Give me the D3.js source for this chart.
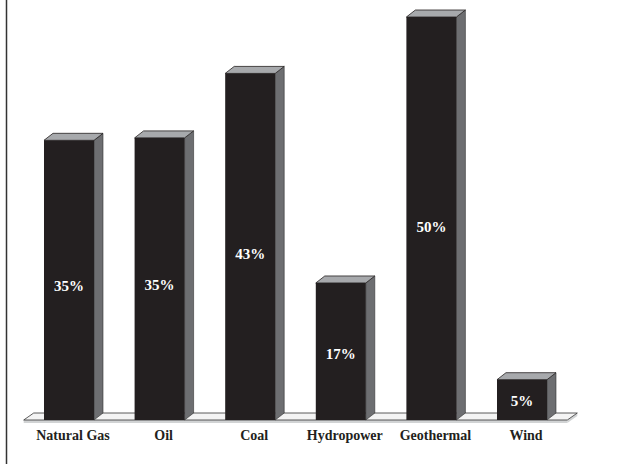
<!DOCTYPE html>
<html>
<head>
<meta charset="utf-8">
<script src="https://cdn.jsdelivr.net/npm/d3@7"></script>
<style>
	body { margin: 0; background: #fff; }
	svg { display: block; }
	.cat { font-family: 'Liberation Serif', 'DejaVu Serif', serif; font-weight: bold; font-size: 14px; fill: #231f20; }
	.val { font-family: 'Liberation Serif', 'DejaVu Serif', serif; font-weight: bold; font-size: 15px; fill: #fff; }
</style>
</head>
<body>
<svg></svg>
<script>
const categories = ['Natural Gas', 'Oil', 'Coal', 'Hydropower', 'Geothermal', 'Wind'];
const values = [34.7, 35, 43, 17, 50, 5];
const valueLabels = ['35%', '35%', '43%', '17%', '50%', '5%'];

const data = categories.map((c, i) => ({ category: c, value: values[i], label: valueLabels[i] }));

const width = 624;
const height = 464;
const baseY = 420;
const depthX = 9;
const depthY = 7;

const svg = d3.select('svg')
	.attr('width', width)
	.attr('height', height);

const xScale = d3.scaleBand()
	.domain(categories)
	.range([23.7, 567.3])
	.paddingInner(0.448)
	.paddingOuter(0.224);

const yScale = d3.scaleLinear()
	.domain([0, 50])
	.range([baseY, 17]);

// left frame line
svg.append('line')
	.attr('x1', 6.5).attr('x2', 6.5)
	.attr('y1', 0).attr('y2', height)
	.attr('stroke', '#333')
	.attr('stroke-width', 1.5);

// floor
const [r0, r1] = xScale.range();
svg.append('rect')
	.attr('x', r0).attr('y', baseY)
	.attr('width', r1 - r0).attr('height', 3)
	.attr('fill', '#d1d3d4');
svg.append('path')
	.attr('d', `M${r1},${baseY + 3}L${r1},${baseY}L${r1 + depthX + 1},${baseY - depthY}L${r1 + depthX + 1},${baseY - depthY + 3}Z`)
	.attr('fill', '#d1d3d4');
svg.append('path')
	.attr('d', `M${r0},${baseY}L${r1},${baseY}L${r1 + depthX + 1},${baseY - depthY}L${r0 + depthX + 1},${baseY - depthY}Z`)
	.attr('fill', '#f4f4f4')
	.attr('stroke', '#333')
	.attr('stroke-width', 0.8)
	.attr('stroke-linejoin', 'round');

const bars = svg.append('g').selectAll('g.bar').data(data)
	.enter().append('g')
		.attr('class', 'bar');

// side face
bars.append('path')
	.attr('d', d => {
		const x1 = xScale(d.category) + xScale.bandwidth();
		const yt = yScale(d.value);
		return `M${x1},${baseY}L${x1},${yt}L${x1 + depthX},${yt - depthY}L${x1 + depthX},${baseY - depthY}Z`;
	})
	.attr('fill', '#6d6e71')
	.attr('stroke', '#333')
	.attr('stroke-width', 0.6);

// top face
bars.append('path')
	.attr('d', d => {
		const x0 = xScale(d.category);
		const x1 = x0 + xScale.bandwidth();
		const yt = yScale(d.value);
		return `M${x0},${yt}L${x0 + depthX},${yt - depthY}L${x1 + depthX},${yt - depthY}L${x1},${yt}Z`;
	})
	.attr('fill', '#a7a9ac')
	.attr('stroke', '#231f20')
	.attr('stroke-width', 0.8)
	.attr('stroke-linejoin', 'round');

// front face
bars.append('rect')
	.attr('x', d => xScale(d.category))
	.attr('y', d => yScale(d.value))
	.attr('width', xScale.bandwidth())
	.attr('height', d => baseY - yScale(d.value))
	.attr('fill', '#231f20');

// value labels sit just below the middle of each bar
bars.append('text')
	.attr('class', 'val')
	.attr('x', d => xScale(d.category) + xScale.bandwidth() / 2)
	.attr('y', d => baseY - (baseY - yScale(d.value)) * 0.48 + 5)
	.attr('text-anchor', 'middle')
	.text(d => d.label);

svg.append('g').selectAll('text.cat').data(data)
	.enter().append('text')
		.attr('class', 'cat')
		.attr('x', d => xScale(d.category) + xScale.bandwidth() / 2 + 4)
		.attr('y', 440)
		.attr('text-anchor', 'middle')
		.text(d => d.category);
</script>
</body>
</html>
